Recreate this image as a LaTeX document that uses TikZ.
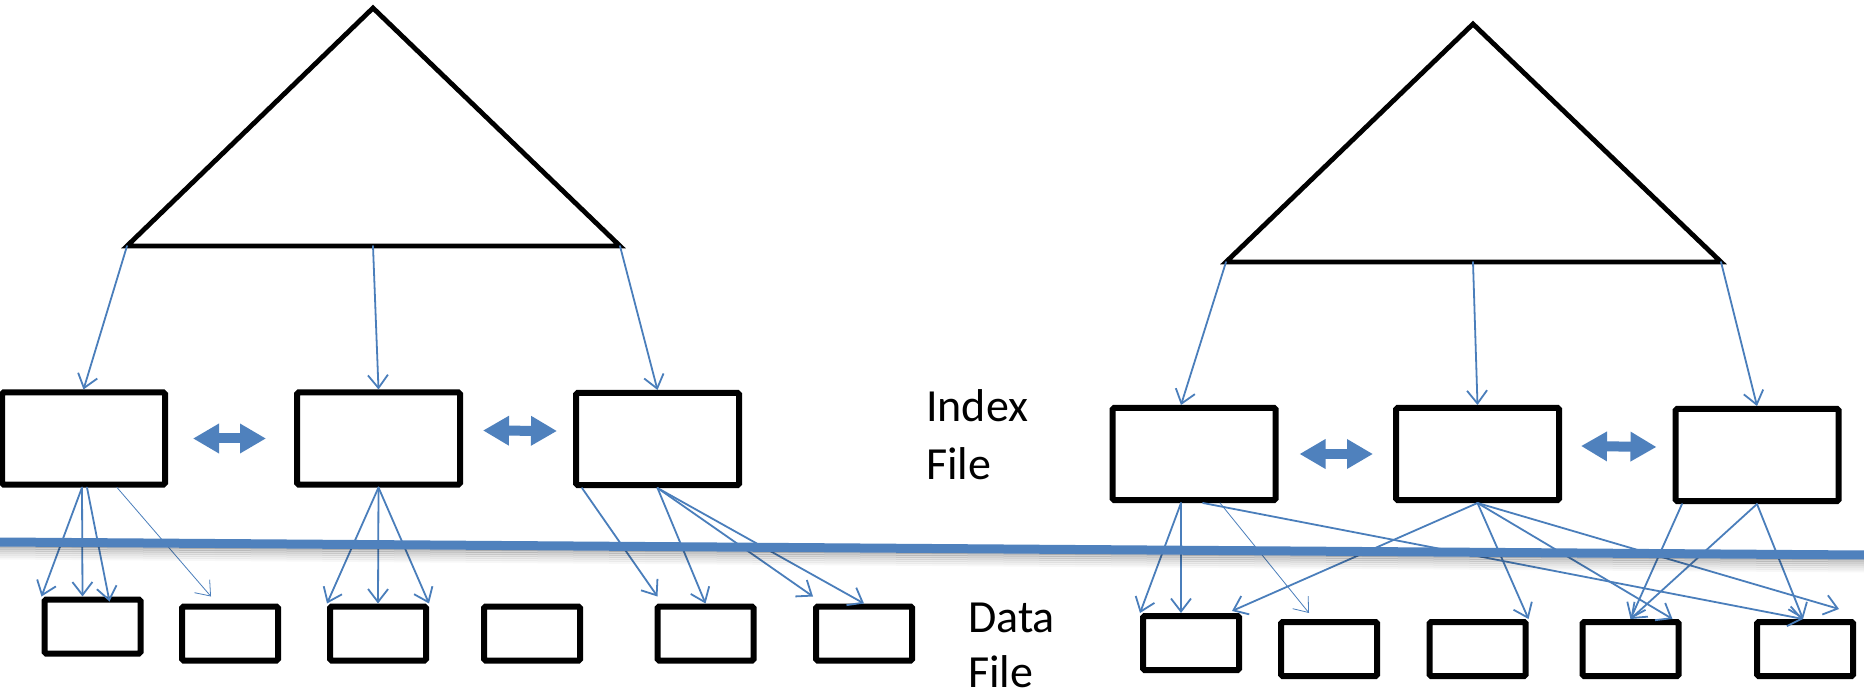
\documentclass[tikz,border=0pt]{standalone}
\usepackage{fontspec}
\setmainfont{Carlito}
\usetikzlibrary{arrows.meta}
\definecolor{linkblue}{HTML}{4A7EBB}
\definecolor{sepblue}{HTML}{4F81BD}
\begin{document}
\begin{tikzpicture}[x=1pt,y=-1pt,
  ibox/.style={draw, line width=6pt, rounded corners=1.5pt, minimum width=163pt,
    minimum height=92pt, inner sep=0pt, outer sep=3pt},
  dbox/.style={ibox, minimum width=96pt, minimum height=54pt},
  link/.style={draw=linkblue, line width=1.8pt, line cap=round,
    -{Straight Barb[length=13pt,width=20pt]}},
  faint/.style={link, line width=0.8pt},
  dbl/.style={draw=sepblue, line width=10pt,
    {Triangle[length=26pt,width=28pt]}-{Triangle[length=26pt,width=28pt]}},
  tri/.style={draw, line width=4.8pt, line join=miter},
  lbl/.style={font=\fontsize{46}{56}\selectfont, anchor=base west, inner sep=0pt}
]
\fill[white] (0,0) rectangle (1864,692);
\useasboundingbox (0,0) rectangle (1864,692);

% ---------- left tree ----------
\coordinate (t1top) at (373,8);
\coordinate (t1l) at (127,246);
\coordinate (t1m) at (373,246);
\coordinate (t1r) at (620,246);
\draw[tri] (t1top) -- (t1r) -- (t1l) -- cycle;

\node[ibox] (b1) at (83.5,438.5) {};
\node[ibox] (b2) at (378.5,438.5) {};
\node[ibox] (b3) at (657.5,439) {};

\node[dbox] (d1) at (92.5,626.5) {};
\node[dbox] (d2) at (230,633.5) {};
\node[dbox] (d3) at (378,633.5) {};
\node[dbox] (d4) at (532,633.5) {};
\node[dbox] (d5) at (705.5,633.5) {};
\node[dbox] (d6) at (864,633.5) {};

% ---------- right tree ----------
\coordinate (t2top) at (1473,24);
\coordinate (t2l) at (1226,262);
\coordinate (t2m) at (1473,262);
\coordinate (t2r) at (1721,262);
\draw[tri] (t2top) -- (t2r) -- (t2l) -- cycle;

\node[ibox] (rb1) at (1194,454) {};
\node[ibox] (rb2) at (1477.5,454) {};
\node[ibox] (rb3) at (1757,455) {};

\node[dbox] (rd1) at (1191,643) {};
\node[dbox] (rd2) at (1329,649) {};
\node[dbox] (rd3) at (1477.5,649) {};
\node[dbox] (rd4) at (1630.5,649) {};
\node[dbox] (rd5) at (1805,649) {};

% ---------- tree to index pages ----------
\draw[link] (t1l) -- (b1.north);
\draw[link] (t1m) -- (b2.north);
\draw[link] (t1r) -- (b3.north);
\draw[link] (t2l) -- ([xshift=-13pt]rb1.north);
\draw[link] (t2m) -- (rb2.north);
\draw[link] (t2r) -- (rb3.north);

% ---------- index pages to data pages (left) ----------
\draw[link] ([xshift=-1.5pt]b1.south) -- (d1.north west);
\draw[link] ([xshift=-1.5pt]b1.south) -- ([xshift=-10pt]d1.north);
\draw[link] ([xshift=3.5pt]b1.south) -- ([xshift=17pt,yshift=-5pt]d1.north);
\draw[faint] ([xshift=33.5pt]b1.south) -- ([xshift=-19pt,yshift=7pt]d2.north);

\draw[link] (b2.south) -- (d3.north west);
\draw[link] (b2.south) -- (d3.north);
\draw[link] (b2.south) -- (d3.north east);

\draw[link] ([xshift=-75.5pt]b3.south) -- ([xshift=3pt,yshift=7pt]d5.north west);
\draw[link] (b3.south) -- (d5.north);
\draw[link] (b3.south) -- ([yshift=7pt]d6.north west);
\draw[link] (b3.south) -- (d6.north);

% ---------- index pages to data pages (right) ----------
\draw[link] ([xshift=-13pt]rb1.south) -- (rd1.north west);
\draw[link] ([xshift=-13pt]rb1.south) -- ([xshift=-10pt]rd1.north);
\draw[faint] ([xshift=26pt]rb1.south) -- ([xshift=-20pt,yshift=6pt]rd2.north);
\draw[link] ([xshift=9pt]rb1.south) -- ([xshift=-2pt]rd5.north);

\draw[link] (rb2.south) -- ([xshift=-10pt,yshift=2pt]rd1.north east);
\draw[link] (rb2.south) -- (rd3.north east);
\draw[link] (rb2.south) -- ([xshift=-9pt]rd4.north east);
\draw[link] (rb2.south) -- ([xshift=-17pt,yshift=10pt]rd5.north east);

\draw[link] ([xshift=-75pt]rb3.south) -- (rd4.north);
\draw[link] (rb3.south) -- (rd4.north);
\draw[link] (rb3.south) -- ([xshift=-2pt]rd5.north);

% ---------- sibling links ----------
\draw[dbl] ([xshift=25pt]b1.east) -- ([xshift=-28pt]b2.west);
\draw[dbl] ([xshift=20pt,yshift=8pt]b2.east) -- ([xshift=-16pt,yshift=8pt]b3.west);
\draw[dbl] ([xshift=21pt]rb1.east) -- ([xshift=-20pt]rb2.west);
\draw[dbl] ([xshift=19pt,yshift=8pt]rb2.east) -- ([xshift=-16pt,yshift=8pt]rb3.west);

% ---------- separator with soft shadow ----------
\coordinate (sepL) at (0,542);
\coordinate (sepR) at (1864,555);
\foreach \d/\o in {4/0.20,6/0.16,8/0.13,10/0.10,12/0.07,14/0.05,16/0.03}
  \draw[line width=3pt, black, opacity=\o] ([yshift=-\d pt]sepL) -- ([yshift=-\d pt]sepR);
\draw[sepblue, line width=9pt] (sepL) -- (sepR);

% ---------- labels ----------
\node[lbl] (idx1) at (926,422) {Index};
\node[lbl] (idx2) at (926,479) {File};
\node[lbl] (dat1) at (968,632) {Data};
\node[lbl] (dat2) at (968,687) {File};
\end{tikzpicture}
\end{document}
